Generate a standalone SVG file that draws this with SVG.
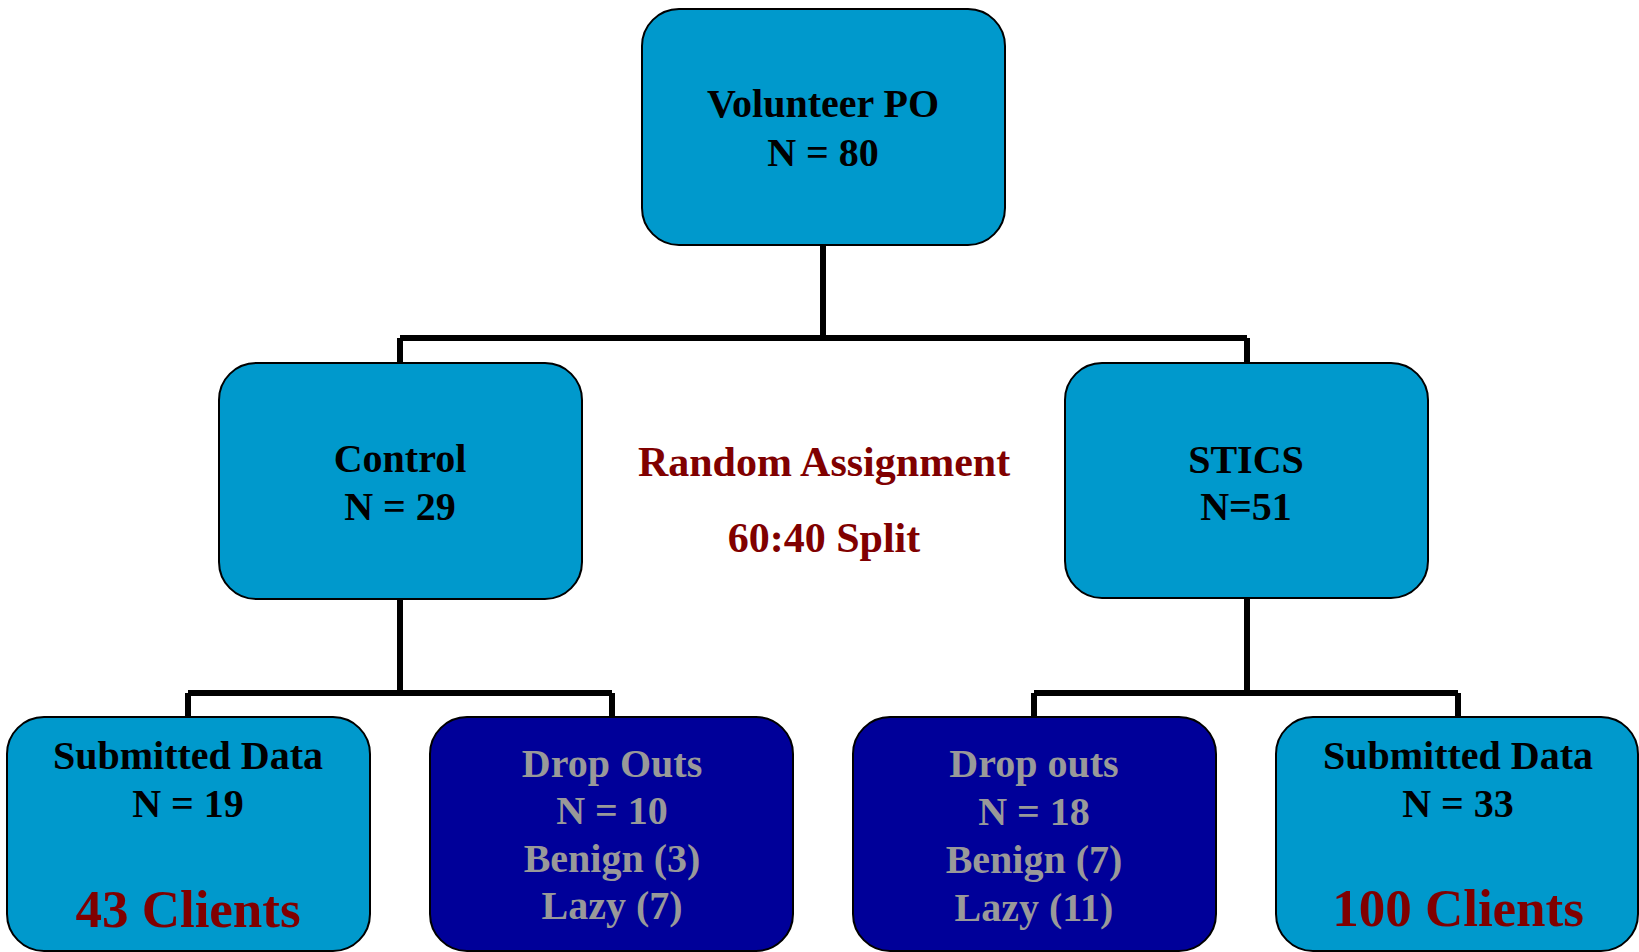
<svg xmlns="http://www.w3.org/2000/svg" width="1639" height="952" viewBox="0 0 1639 952">
<style>
.lb{fill:#0099CC;stroke:#000;stroke-width:2}
.db{fill:#000099;stroke:#000;stroke-width:2}
text{font-family:"Liberation Serif","Times New Roman",serif;font-weight:bold;text-anchor:middle}
.t{font-size:40px;fill:#000}
.g{font-size:40px;fill:#999999}
.r{fill:#800000}
.c{stroke:#000;stroke-width:6;fill:none}
</style>
<rect width="1639" height="952" fill="#fff"/>
<g id="connectors">
<path class="c" d="M823,245 V338 M400,338 H1247 M400,338 V363 M1247,338 V363"/>
<path class="c" d="M400,599 V693 M188,693 H612 M188,693 V717 M612,693 V717"/>
<path class="c" d="M1247,598 V693 M1034,693 H1458 M1034,693 V717 M1458,693 V717"/>
</g>
<g id="volunteer">
<rect class="lb" x="642" y="9" width="363" height="236" rx="37"/>
<text class="t" x="823" y="117">Volunteer PO</text>
<text class="t" x="823" y="166">N = 80</text>
</g>
<g id="control">
<rect class="lb" x="219" y="363" width="363" height="236" rx="37"/>
<text class="t" x="400" y="472">Control</text>
<text class="t" x="400" y="520">N = 29</text>
</g>
<g id="stics">
<rect class="lb" x="1065" y="363" width="363" height="235" rx="37"/>
<text class="t" x="1246" y="473">STICS</text>
<text class="t" x="1246" y="520">N=51</text>
</g>
<g id="random">
<text class="r" x="824" y="476" font-size="42">Random Assignment</text>
<text class="r" x="824" y="552" font-size="42">60:40 Split</text>
</g>
<g id="submitted-control">
<rect class="lb" x="7" y="717" width="363" height="234" rx="37"/>
<text class="t" x="188" y="769">Submitted Data</text>
<text class="t" x="188" y="817">N = 19</text>
<text class="r" x="188" y="927" font-size="53">43 Clients</text>
</g>
<g id="dropouts-control">
<rect class="db" x="430" y="717" width="363" height="234" rx="37"/>
<text class="g" x="612" y="777">Drop Outs</text>
<text class="g" x="612" y="824">N = 10</text>
<text class="g" x="612" y="872">Benign (3)</text>
<text class="g" x="612" y="919">Lazy (7)</text>
</g>
<g id="dropouts-stics">
<rect class="db" x="853" y="717" width="363" height="234" rx="37"/>
<text class="g" x="1034" y="777">Drop outs</text>
<text class="g" x="1034" y="825">N = 18</text>
<text class="g" x="1034" y="873">Benign (7)</text>
<text class="g" x="1034" y="921">Lazy (11)</text>
</g>
<g id="submitted-stics">
<rect class="lb" x="1276" y="717" width="362" height="234" rx="37"/>
<text class="t" x="1458" y="769">Submitted Data</text>
<text class="t" x="1458" y="817">N = 33</text>
<text class="r" x="1458" y="926" font-size="53">100 Clients</text>
</g>
</svg>
